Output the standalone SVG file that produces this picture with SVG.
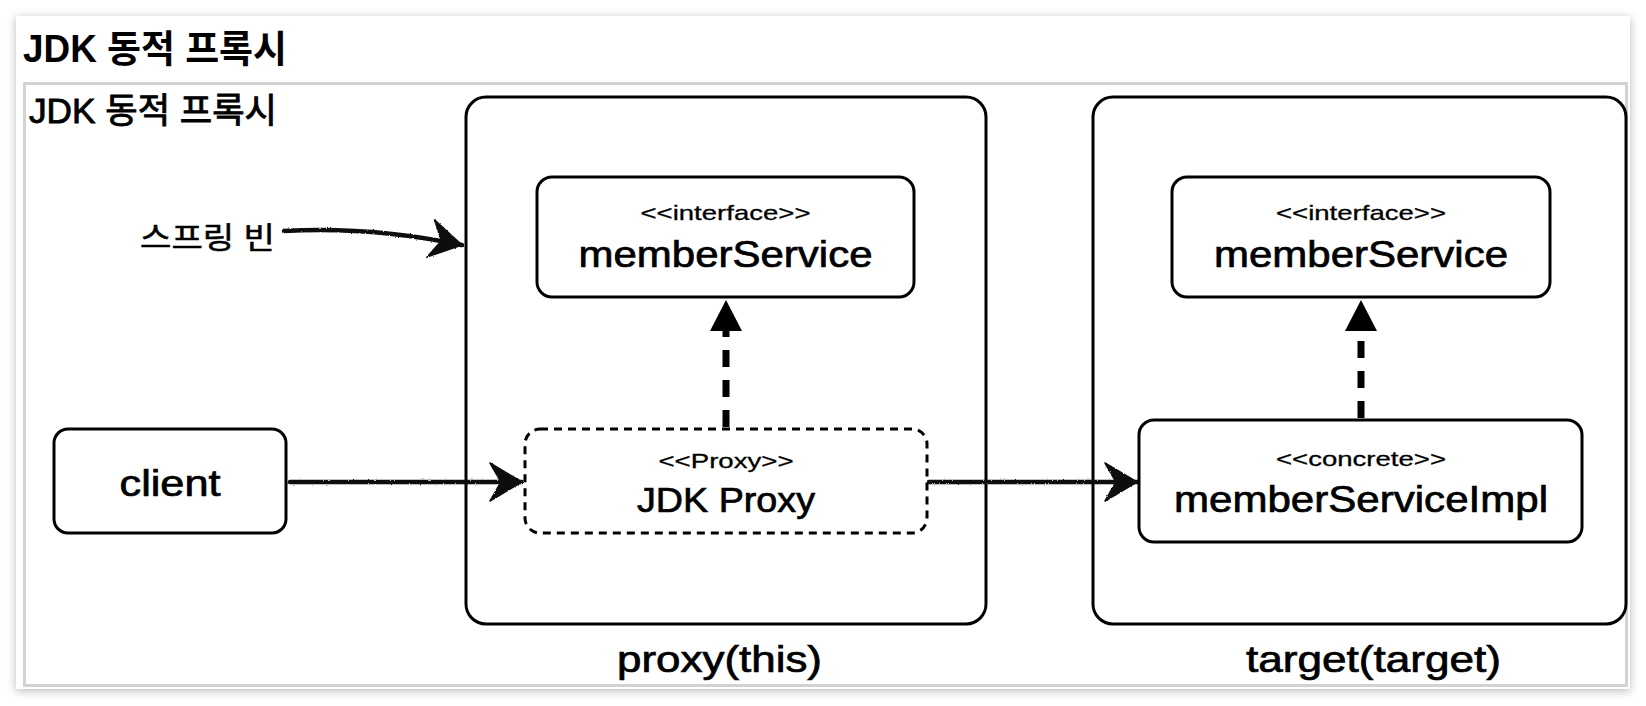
<svg xmlns="http://www.w3.org/2000/svg" width="1646" height="706" viewBox="0 0 1646 706">
<defs>
  <style>
    .t { font-family: "Liberation Sans", "Noto Sans CJK KR", sans-serif; fill: #000; stroke: #000; stroke-width: 0.7; }
    .s { font-family: "Liberation Sans", "Noto Sans CJK KR", sans-serif; fill: #000; stroke: #000; stroke-width: 0.3; }
    .ko { font-family: "Liberation Sans", "Noto Sans CJK KR", sans-serif; fill: #000; }
    .box { fill: #fff; stroke: #000; stroke-width: 3; }
    .dashbox { fill: #fff; stroke: #000; stroke-width: 3; stroke-dasharray: 8 6; }
    .sketch { fill: none; stroke: #111; stroke-width: 4.5; stroke-linecap: round; }
    .impl { fill: none; stroke: #000; stroke-width: 7; stroke-dasharray: 17 13; }
  </style>
  <filter id="shadow" x="-5%" y="-10%" width="110%" height="120%">
    <feDropShadow dx="0" dy="2" stdDeviation="5" flood-color="#000" flood-opacity="0.28"/>
  </filter>
  <filter id="rough" x="-5%" y="-50%" width="110%" height="200%">
    <feTurbulence type="fractalNoise" baseFrequency="0.6" numOctaves="2" seed="3" result="n"/>
    <feDisplacementMap in="SourceGraphic" in2="n" scale="2.2" xChannelSelector="R" yChannelSelector="G"/>
  </filter>
  <marker id="sk" markerUnits="userSpaceOnUse" markerWidth="40" markerHeight="44" refX="34" refY="20" orient="auto">
    <path d="M34,20 L2,1 L13,20 L2,39 Z" fill="#111" stroke="#111" stroke-width="1.5" stroke-linejoin="round"/>
  </marker>
</defs>

<rect width="1646" height="706" fill="#fff"/>

<g id="card">
  <rect x="16" y="16" width="1614" height="673" fill="#fff" filter="url(#shadow)"/>
  <text class="ko" x="23" y="62" font-size="38" font-weight="bold" textLength="264" lengthAdjust="spacingAndGlyphs">JDK 동적 프록시</text>
  <rect x="24.5" y="83.5" width="1602" height="602" fill="#fff" stroke="#d2d2d2" stroke-width="3"/>
  <text class="ko" x="29" y="123" font-size="35" stroke="#000" stroke-width="0.9" textLength="248" lengthAdjust="spacingAndGlyphs">JDK 동적 프록시</text>
</g>

<g id="proxy-container">
  <rect class="box" x="466" y="97" width="520" height="527" rx="20"/>
  <text class="t" x="719.5" y="672" font-size="36" text-anchor="middle" textLength="205" lengthAdjust="spacingAndGlyphs">proxy(this)</text>
</g>

<g id="target-container">
  <rect class="box" x="1093" y="97" width="533" height="527" rx="20"/>
  <text class="t" x="1373.5" y="672" font-size="36" text-anchor="middle" textLength="255" lengthAdjust="spacingAndGlyphs">target(target)</text>
</g>

<g id="spring-bean-label">
  <text class="ko" x="140" y="248" font-size="30" stroke="#000" stroke-width="0.5" textLength="135" lengthAdjust="spacingAndGlyphs">스프링 빈</text>
</g>

<g id="proxy-memberService">
  <rect class="box" x="537" y="177" width="377" height="120" rx="15"/>
  <text class="s" x="725.5" y="220" font-size="21" text-anchor="middle" textLength="170" lengthAdjust="spacingAndGlyphs">&lt;&lt;interface&gt;&gt;</text>
  <text class="t" x="725.5" y="267" font-size="36" text-anchor="middle" textLength="294" lengthAdjust="spacingAndGlyphs">memberService</text>
</g>

<g id="target-memberService">
  <rect class="box" x="1172" y="177" width="378" height="120" rx="15"/>
  <text class="s" x="1361" y="220" font-size="21" text-anchor="middle" textLength="170" lengthAdjust="spacingAndGlyphs">&lt;&lt;interface&gt;&gt;</text>
  <text class="t" x="1361" y="267" font-size="36" text-anchor="middle" textLength="294" lengthAdjust="spacingAndGlyphs">memberService</text>
</g>

<g id="client">
  <rect class="box" x="54" y="429" width="232" height="104" rx="14"/>
  <text class="t" x="170" y="496" font-size="36" text-anchor="middle" textLength="101" lengthAdjust="spacingAndGlyphs">client</text>
</g>

<g id="connectors">
  <line class="impl" x1="726" y1="427" x2="726" y2="328"/>
  <path d="M726,300 L742,331 L710,331 Z" fill="#000"/>
  <line class="impl" x1="1361" y1="418" x2="1361" y2="328"/>
  <path d="M1361,300 L1377,331 L1345,331 Z" fill="#000"/>
  <g filter="url(#rough)">
    <path class="sketch" d="M284,231 Q370,226 462,245" marker-end="url(#sk)"/>
    <path class="sketch" d="M290,482 L522,482" marker-end="url(#sk)"/>
    <path class="sketch" d="M929,482 L1137,482" marker-end="url(#sk)"/>
  </g>
</g>

<g id="jdk-proxy">
  <rect class="dashbox" x="525" y="429" width="402" height="104" rx="15"/>
  <text class="s" x="726" y="468" font-size="21" text-anchor="middle" textLength="135" lengthAdjust="spacingAndGlyphs">&lt;&lt;Proxy&gt;&gt;</text>
  <text class="t" x="726" y="512" font-size="35" text-anchor="middle" textLength="178" lengthAdjust="spacingAndGlyphs">JDK Proxy</text>
</g>

<g id="memberServiceImpl">
  <rect class="box" x="1139" y="420" width="443" height="122" rx="15"/>
  <text class="s" x="1361" y="466" font-size="21" text-anchor="middle" textLength="170" lengthAdjust="spacingAndGlyphs">&lt;&lt;concrete&gt;&gt;</text>
  <text class="t" x="1361" y="512" font-size="36" text-anchor="middle" textLength="374" lengthAdjust="spacingAndGlyphs">memberServiceImpl</text>
</g>
</svg>
